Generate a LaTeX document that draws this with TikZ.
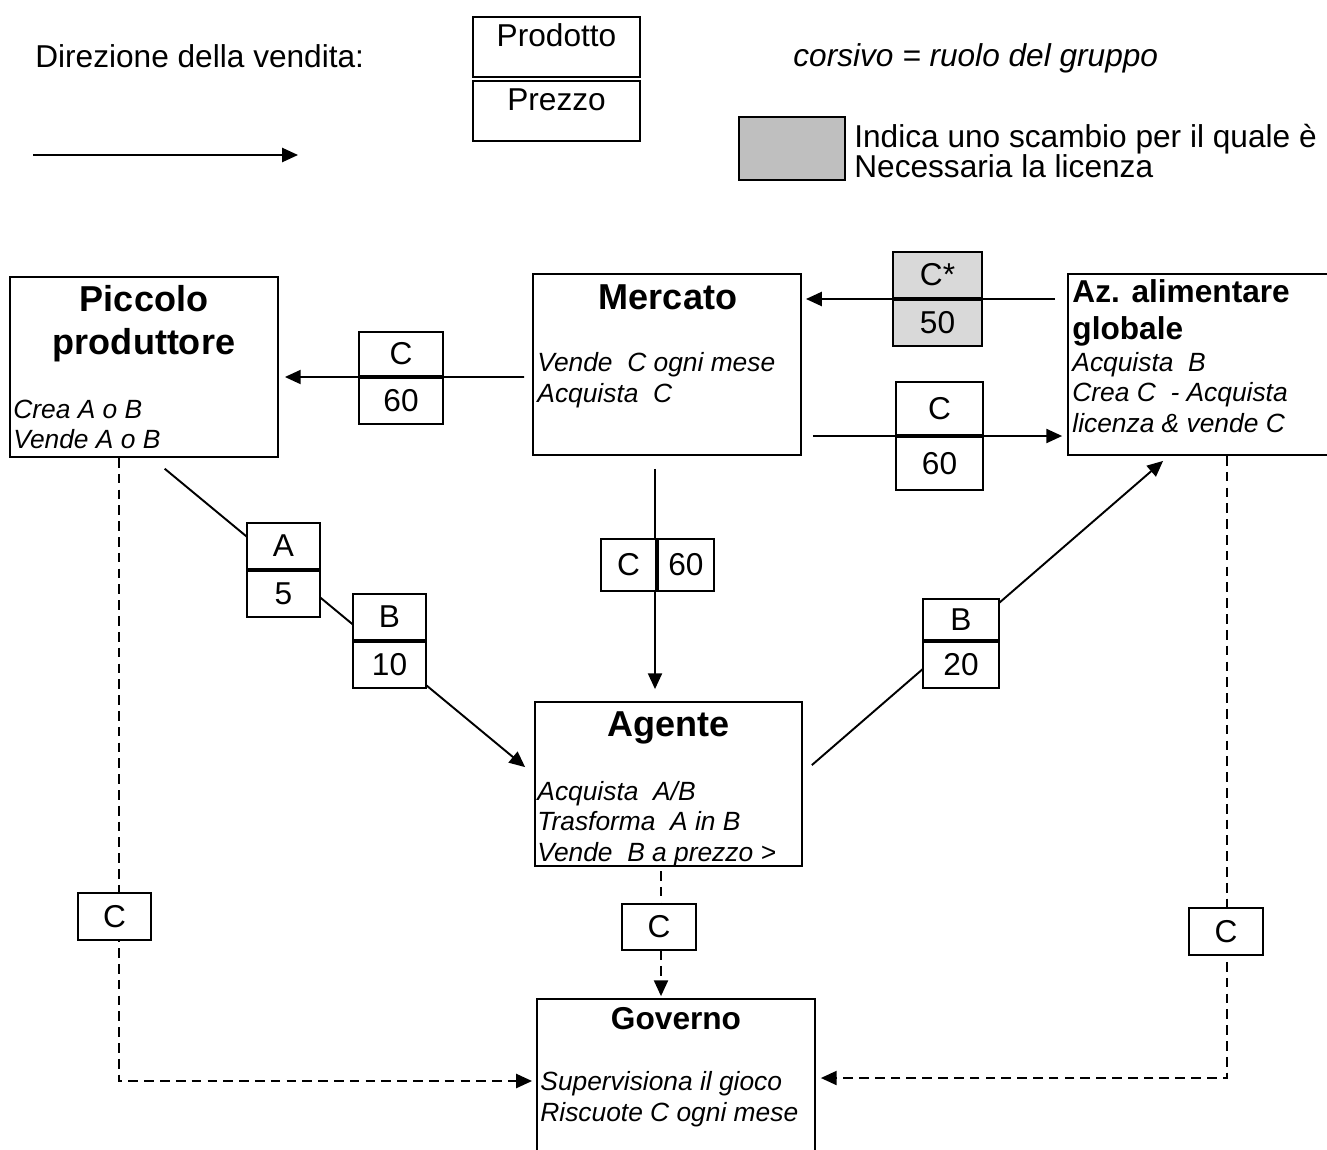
\documentclass[tikz,border=0pt]{standalone}
\usepackage{fontspec}
\setmainfont{Liberation Sans}
\usetikzlibrary{positioning, calc, arrows.meta}

\begin{document}
\begin{tikzpicture}[x=0.02cm, y=-0.02cm]
\tikzstyle{every node}=[inner sep=0pt]
\tikzstyle{box}=[draw, line width=1.1pt]
\tikzstyle{cell}=[draw, fill=white, line width=1.1pt, font=\fontsize{18}{20}\selectfont]
\tikzstyle{head}=[font=\fontsize{20.5}{24.4}\selectfont\bfseries, align=center, anchor=base]
\tikzstyle{role}=[font=\fontsize{15}{17.2}\selectfont\itshape, align=left, anchor=base west]
\tikzstyle{legtext}=[font=\fontsize{18}{17}\selectfont, align=left, anchor=base west]
\tikzstyle{sale}=[draw, line width=1.1pt, -{Triangle[length=9pt,width=8pt]}]
\tikzstyle{tax}=[sale, dash pattern=on 5.5pt off 3.5pt]

\useasboundingbox (0,0) rectangle (1327,1149);

% legenda
\node[legtext] (dir) at (35,68) {Direzione della vendita:};
\coordinate (d1) at (33,155);
\coordinate (d2) at (298,155);
\draw[sale] (d1) -- (d2);
\node[box, minimum width=3.34cm, text height=17.3pt, text depth=17.3pt, font=\fontsize{18}{20}\selectfont] (prod) at (556.5,47) {Prodotto};
\node[box, minimum width=3.34cm, text height=17pt, text depth=17pt, font=\fontsize{18}{20}\selectfont, below=1pt of prod] (prez) {Prezzo};
\node[legtext, font=\fontsize{18}{17}\selectfont\itshape] (cors) at (793,67) {corsivo = ruolo del gruppo};
\node[box, fill=gray!50, minimum width=2.12cm, minimum height=1.26cm] (lic) at (792,148.5) {};
\node[legtext] (lictext) at (854,177) {Indica uno scambio per il quale è\\Necessaria la licenza};

% gruppi
\node[box, minimum width=5.36cm, minimum height=3.6cm] (P) at (144,367) {};
\node[box, minimum width=5.36cm, minimum height=3.62cm] (M) at (667,364.5) {};
\node[box, minimum width=5.36cm, minimum height=3.62cm] (Z) at (1202,364.5) {};
\node[box, minimum width=5.34cm, minimum height=3.28cm] (A) at (668.5,784) {};
\node[box, minimum width=5.56cm, minimum height=4cm] (G) at (676,1099) {};

\node[head] (Pt) at ($(P.north)+(0,78)$) {Piccolo\\produttore};
\node[head] (Mt) at ($(M.north)+(1,36)$) {Mercato};
\node[head, anchor=base west, align=left, font=\fontsize{18}{21}\selectfont\bfseries] (Zt) at ($(Z.north west)+(5,66)$) {Az. alimentare\\globale};
\node[head] (At) at ($(A.north)+(0,35)$) {Agente};
\node[head, font=\fontsize{18}{21}\selectfont\bfseries] (Gt) at ($(G.north)+(0,31)$) {Governo};

\node[role] (Pr) at ($(P.south west)+(4,-9)$) {Crea A o B\\Vende A o B};
\node[role] (Mr) at ($(M.north west)+(5,129)$) {Vende\ \ C ogni mese\\Acquista\ \ C};
\node[role] (Zr) at ($(Z.north west)+(5,159)$) {Acquista\ \ B\\Crea C\ \ - Acquista\\licenza \& vende C};
\node[role] (Ar) at ($(A.north west)+(3,160)$) {Acquista\ \ A/B\\Trasforma\ \ A in B\\Vende\ \ B a prezzo >};
\node[role] (Gr) at ($(G.north west)+(4,123)$) {Supervisiona il gioco\\Riscuote C ogni mese};

% vendite
\draw[sale, shorten <=4.5pt, shorten >=3.4pt] ($(M.west)+(0,12.5)$) -- ($(P.east)+(0,10)$);
\draw[sale, shorten <=6.8pt, shorten >=2.3pt] ($(Z.west)+(0,-65.5)$) -- ($(M.east)+(0,-65.5)$);
\draw[sale, shorten <=6.2pt, shorten >=2.8pt] ($(M.east)+(0,71.5)$) -- ($(Z.west)+(0,71.5)$);
\draw[sale, shorten <=7.4pt, shorten >=6.8pt] ($(M.south)+(-12,0)$) -- ($(A.north)+(-13.5,0)$);
\draw[sale, shorten <=9.6pt, shorten >=6.6pt] ($(P.south)+(7.7,0)$) -- ($(A.west)+(0,-9.5)$);
\draw[sale, shorten <=6.7pt, shorten >=4.3pt] ($(A.east)+(0,-11.2)$) -- ($(Z.south)+(-33.2,0)$);

% tasse
\draw[tax, shorten <=2.3pt, shorten >=1.1pt] ($(A.south)+(-7.5,0)$) -- ($(G.north)+(-15,0)$);
\draw[tax, shorten >=2.3pt] ($(P.south)+(-25,0)$) |- ($(G.west)+(0,-18)$);
\draw[tax, shorten >=2.8pt] ($(Z.south)+(25,0)$) |- ($(G.east)+(0,-21)$);

% prodotto / prezzo
\node[cell, minimum width=1.68cm, minimum height=0.88cm, anchor=south] (mp1) at (401,377) {C};
\node[cell, minimum width=1.68cm, minimum height=0.92cm, below=0pt of mp1] (mp2) {60};
\node[cell, fill=gray!30, minimum width=1.78cm, minimum height=0.92cm, anchor=south] (zm1) at (937.5,299) {C*};
\node[cell, fill=gray!30, minimum width=1.78cm, minimum height=0.92cm, below=0pt of zm1] (zm2) {50};
\node[cell, minimum width=1.74cm, minimum height=1.06cm, anchor=south] (mz1) at (939.5,436) {C};
\node[cell, minimum width=1.74cm, minimum height=1.06cm, below=0pt of mz1] (mz2) {60};
\node[cell, minimum width=1.1cm, minimum height=1.04cm, anchor=east] (ma1) at (657,565) {C};
\node[cell, minimum width=1.12cm, minimum height=1.04cm, right=0pt of ma1] (ma2) {60};
\node[cell, minimum width=1.46cm, minimum height=0.92cm, anchor=south] (pa1) at (283.5,570) {A};
\node[cell, minimum width=1.46cm, minimum height=0.92cm, below=0pt of pa1] (pa2) {5};
\node[cell, minimum width=1.46cm, minimum height=0.92cm, anchor=south] (pb1) at (389.5,641) {B};
\node[cell, minimum width=1.46cm, minimum height=0.92cm, below=0pt of pb1] (pb2) {10};
\node[cell, minimum width=1.52cm, minimum height=0.82cm, anchor=south] (az1) at (961,641) {B};
\node[cell, minimum width=1.52cm, minimum height=0.92cm, below=0pt of az1] (az2) {20};

\node[cell, minimum width=1.46cm, minimum height=0.94cm] (tp) at (114.5,916.5) {C};
\node[cell, minimum width=1.48cm, minimum height=0.92cm] (ta) at (659,927) {C};
\node[cell, minimum width=1.48cm, minimum height=0.94cm] (tz) at (1226,931.5) {C};
\end{tikzpicture}
\end{document}
